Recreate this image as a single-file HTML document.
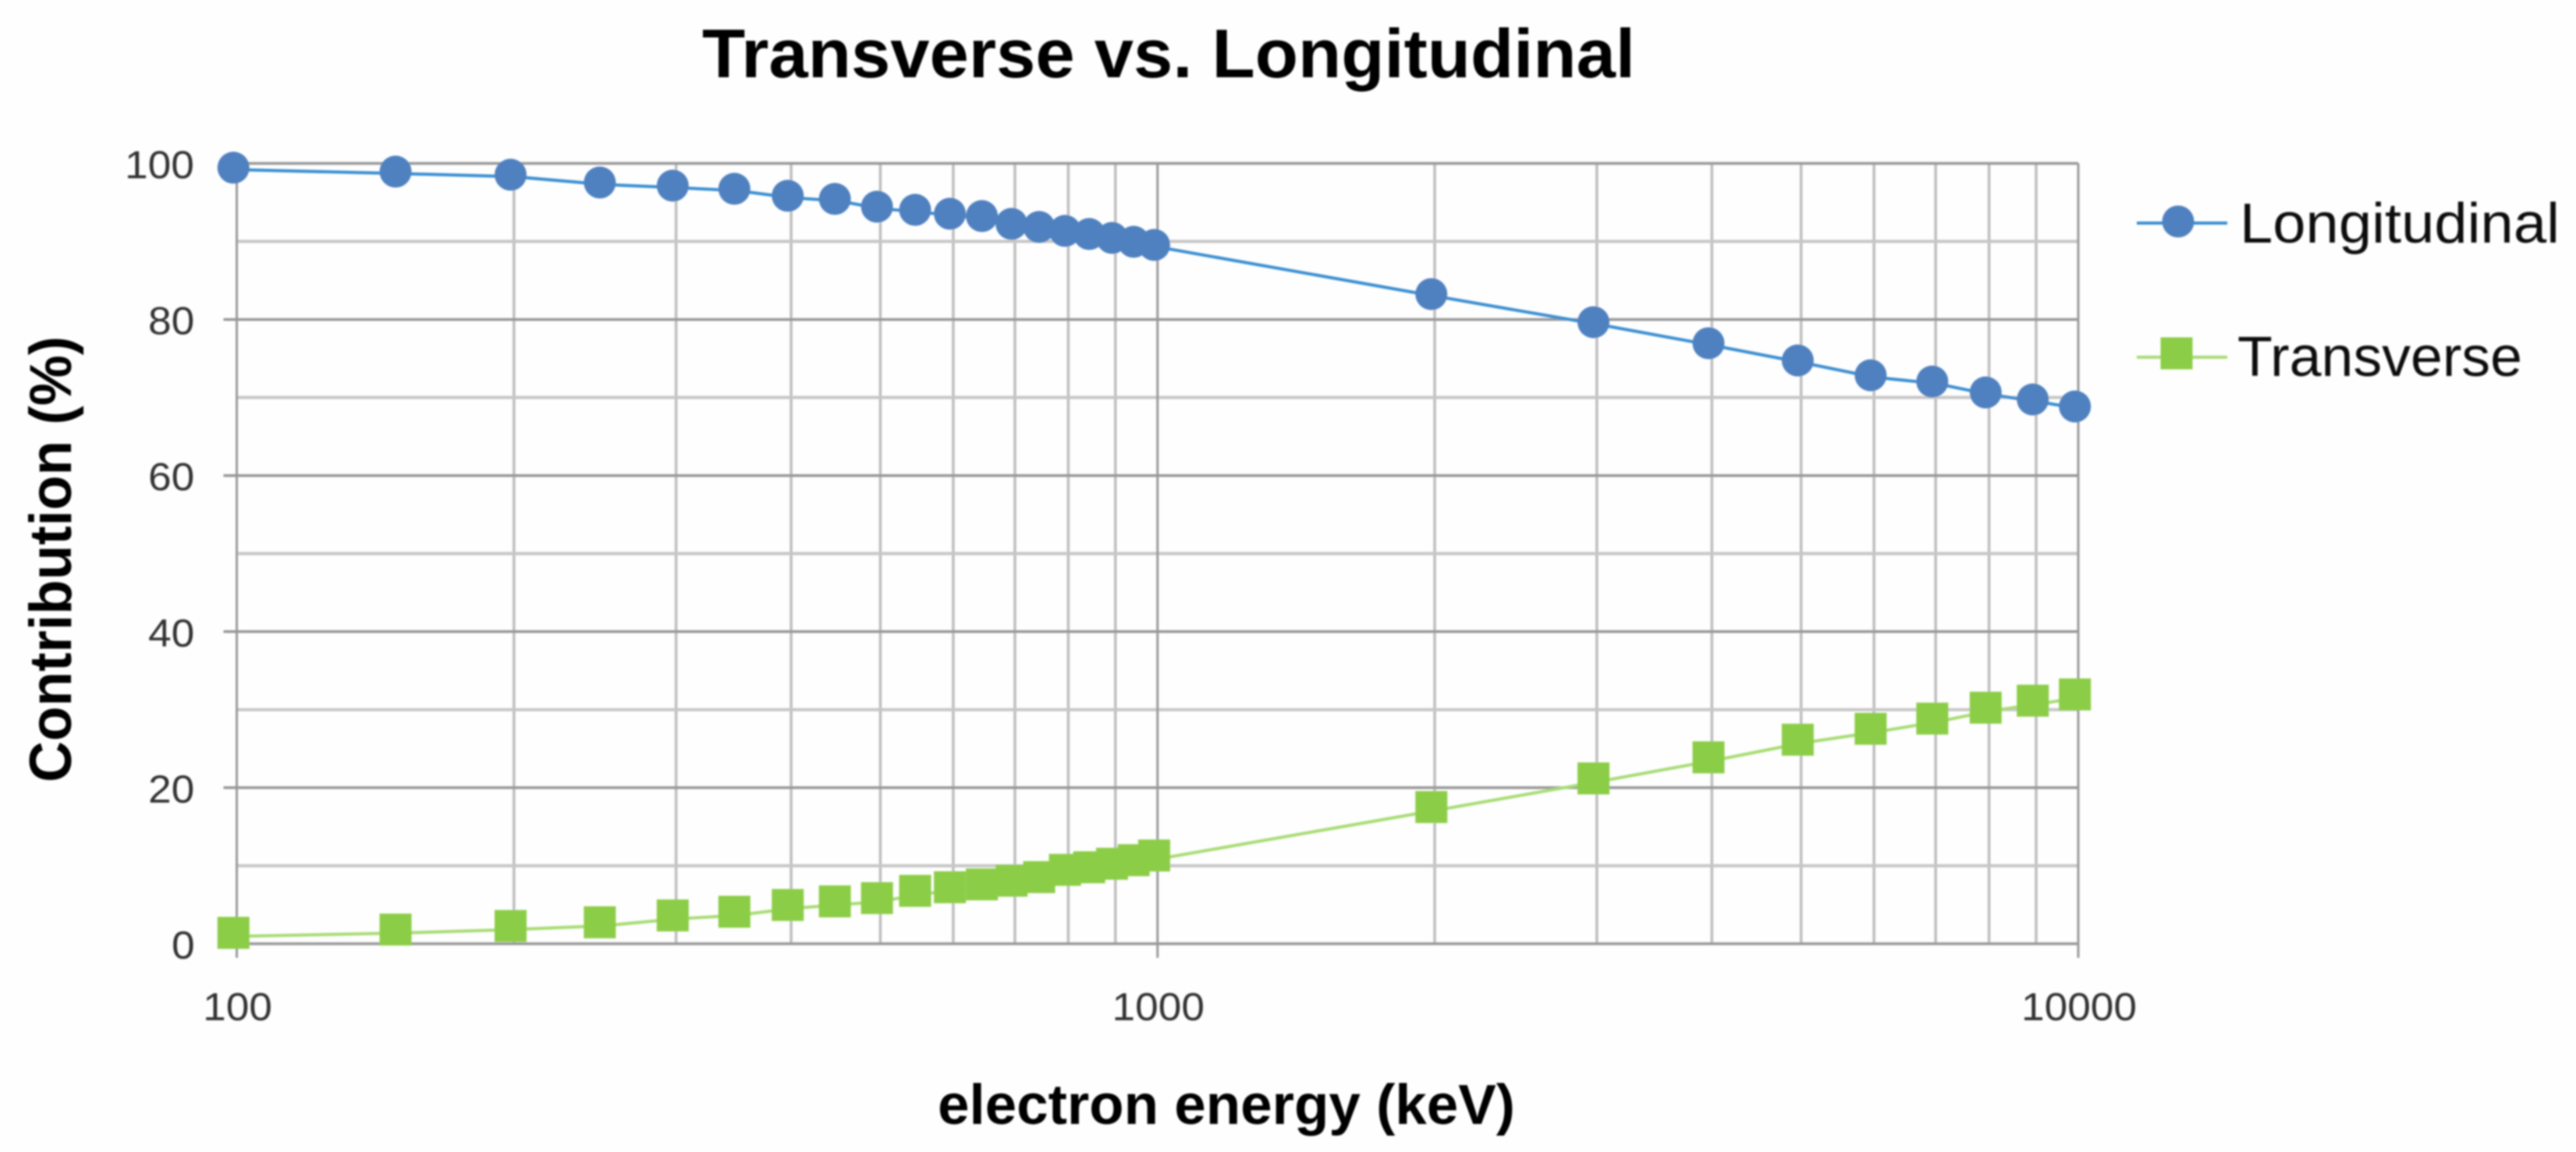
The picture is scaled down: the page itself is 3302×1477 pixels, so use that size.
<!DOCTYPE html>
<html lang="en">
<head>
<meta charset="utf-8">
<title>Transverse vs. Longitudinal</title>
<style>
  html, body { margin: 0; padding: 0; background: #fefefe; }
  svg { display: block; }
  text { font-family: "Liberation Sans", "DejaVu Sans", sans-serif; }
</style>
</head>
<body>
<svg id="chart" xmlns="http://www.w3.org/2000/svg" width="3302" height="1477" viewBox="0 0 3302 1477">
  <defs>
    <filter id="soft" x="0" y="0" width="100%" height="100%" filterUnits="userSpaceOnUse" primitiveUnits="userSpaceOnUse">
      <feGaussianBlur stdDeviation="1.1"/>
    </filter>
  </defs>
  <rect x="0" y="0" width="3302" height="1477" fill="#fefefe"/>
  <g id="root" filter="url(#soft)">
    <g id="grid"></g>
    <g id="axes"></g>
    <g id="series"></g>
    <text x="900" y="99" font-size="88" font-weight="700" fill="#000" textLength="1196" lengthAdjust="spacingAndGlyphs">Transverse vs. Longitudinal</text>
    <text x="1202" y="1441" font-size="72" font-weight="700" fill="#000" textLength="740" lengthAdjust="spacingAndGlyphs">electron energy (keV)</text>
    <text transform="translate(91 1003) rotate(-90)" x="0" y="0" font-size="76" font-weight="700" fill="#000" textLength="572" lengthAdjust="spacingAndGlyphs">Contribution (%)</text>
    <g>
      <g>
        <line x1="2739" x2="2855" y1="286" y2="286" stroke="#3a8fd2" stroke-width="4"/>
        <circle cx="2792" cy="284" r="20.5" fill="#4f81c0"/>
        <text x="2871" y="311" font-size="72" fill="#111" textLength="410" lengthAdjust="spacingAndGlyphs">Longitudinal</text>
      </g>
      <g>
        <line x1="2739" x2="2855" y1="458" y2="458" stroke="#a8dc74" stroke-width="4"/>
        <rect x="2769.5" y="432.5" width="41" height="41" fill="#8ccd46"/>
        <text x="2868" y="482" font-size="72" fill="#111" textLength="365" lengthAdjust="spacingAndGlyphs">Transverse</text>
      </g>
    </g>
  </g>
</svg>
<script>
const energies = [100,150,200,250,300,350,400,450,500,550,600,650,700,750,800,850,900,950,1000,2000,3000,4000,5000,6000,7000,8000,9000,10000];
const longitudinal = [99.2,98.7,98.3,97.3,96.9,96.5,95.6,95.2,94.2,93.8,93.3,93.0,92.0,91.6,91.1,90.7,90.2,89.7,89.3,83.0,79.4,76.7,74.5,72.6,71.8,70.4,69.5,68.6];
const transverse = [0.95,1.37,1.83,2.3,3.18,3.65,4.52,4.98,5.4,6.33,6.79,7.16,7.63,8.09,9.02,9.35,9.8,10.26,10.86,17.07,20.74,23.44,25.7,27.1,28.4,29.8,30.7,31.5];
const yMajorTicks = [0,20,40,60,80,100];
const yMinorTicks = [10,30,50,70,90];
const xMajorTicks = [100,1000,10000];
const xMinorTicks = [200,300,400,500,600,700,800,900,2000,3000,4000,5000,6000,7000,8000,9000];

const NS = 'http://www.w3.org/2000/svg';
const plotLeft = 303.5, plotRight = 2664, plotTop = 209.5, plotBottom = 1210;
const xMin = 100, xMax = 10000, yMin = 0, yMax = 100;

function xScale(v) {
  return plotLeft + (Math.log10(v) - Math.log10(xMin)) / (Math.log10(xMax) - Math.log10(xMin)) * (plotRight - plotLeft);
}
function yScale(v) {
  return plotBottom - (v - yMin) / (yMax - yMin) * (plotBottom - plotTop);
}
function make(tag, parent, attrs) {
  const el = document.createElementNS(NS, tag);
  for (const k in attrs) el.setAttribute(k, attrs[k]);
  parent.appendChild(el);
  return el;
}

const grid = document.getElementById('grid');
const axes = document.getElementById('axes');
const series = document.getElementById('series');

xMinorTicks.forEach(function (v) {
  const el = make('line', grid, {x1: xScale(v), x2: xScale(v), y1: plotTop, y2: plotBottom, stroke: '#bdbdbd', 'stroke-width': 3.5});
  
  
});
yMinorTicks.forEach(function (v) {
  const el = make('line', grid, {x1: plotLeft, x2: plotRight, y1: yScale(v), y2: yScale(v), stroke: '#c6c6c6', 'stroke-width': 4});
  
  
});
yMajorTicks.forEach(function (v) {
  const el = make('line', grid, {x1: plotLeft - 17, x2: plotRight, y1: yScale(v), y2: yScale(v), stroke: '#979797', 'stroke-width': 3.5});
  
  
  const label = make('text', axes, {x: 160 + (3 - String(v).length) * 30, y: yScale(v) + 19, 'font-size': 50, fill: '#333', textLength: String(v).length * 29.6, lengthAdjust: 'spacingAndGlyphs'});
  label.textContent = String(v);
  
  
});
xMajorTicks.forEach(function (v) {
  const el = make('line', grid, {x1: xScale(v), x2: xScale(v), y1: plotTop, y2: plotBottom + 18, stroke: '#999999', 'stroke-width': 3});
  
  
  const w = String(v).length * 29.6;
  const label = make('text', axes, {x: xScale(v) + 1 - w / 2, y: 1308, 'font-size': 50, fill: '#333', textLength: w, lengthAdjust: 'spacingAndGlyphs'});
  label.textContent = String(v);
  
  
});

/* the reference's markers sit slightly up and left of their connecting lines */
const blueNudgeX = -4.3, blueNudgeY = -2.5, greenNudgeX = -4.3, greenNudgeY = -4.5;
const markerSize = 41;

function linePoints(values) {
  return values.map(function (v, i) { return xScale(energies[i]) + ',' + yScale(v); }).join(' ');
}

const blueLine = make('polyline', series, {points: linePoints(longitudinal), fill: 'none', stroke: '#3a8fd2', 'stroke-width': 4});



const greenLine = make('polyline', series, {points: linePoints(transverse), fill: 'none', stroke: '#a8dc74', 'stroke-width': 4});



longitudinal.forEach(function (v, i) {
  const el = make('circle', series, {cx: xScale(energies[i]) + blueNudgeX, cy: yScale(v) + blueNudgeY, r: markerSize / 2, fill: '#4f81c0'});
  
  
});
transverse.forEach(function (v, i) {
  const el = make('rect', series, {x: xScale(energies[i]) + greenNudgeX - markerSize / 2, y: yScale(v) + greenNudgeY - markerSize / 2, width: markerSize, height: markerSize, fill: '#8ccd46'});
  
  
});
</script>
</body>
</html>
